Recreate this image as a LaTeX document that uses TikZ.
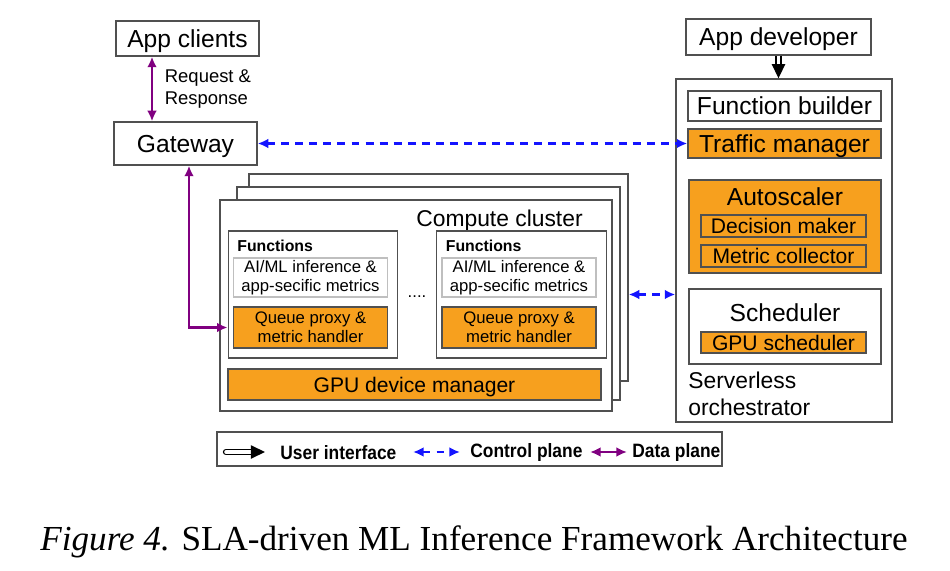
\documentclass[tikz,border=0pt]{standalone}
\usepackage{fontspec}
\setmainfont{Liberation Serif}
\setsansfont{Liberation Sans}
\newfontfamily\legendfont[FakeStretch=0.9]{Liberation Sans}
\usetikzlibrary{arrows.meta}
\definecolor{boxorange}{RGB}{247,160,30}
\definecolor{boxgray}{RGB}{80,80,80}
\definecolor{ctrlblue}{RGB}{20,20,255}
\definecolor{dataviolet}{RGB}{128,0,128}
\begin{document}
\begin{tikzpicture}[font=\sffamily, >=Latex,
      blk/.style={draw=boxgray, line width=0.8pt, fill=white, inner sep=0pt, text depth=0pt, font=\sffamily\fontsize{14}{16}\selectfont},
      org/.style={blk, fill=boxorange},
      sub/.style={org, font=\sffamily\fontsize{12}{14}\selectfont},
      fnbox/.style={blk, text depth={}, align=center, font=\sffamily\fontsize{9.5}{10.8}\selectfont},
      lbl/.style={inner sep=0pt, text depth=0pt, font=\sffamily\fontsize{14}{16}\selectfont},
      legtxt/.style={anchor=west, inner sep=0pt, font=\legendfont\bfseries\fontsize{11}{13}\selectfont},
      ctrl/.style={ctrlblue, line width=1.2pt, dash pattern=on 4.5pt off 3.5pt, {Latex[length=6pt,width=5.5pt]}-{Latex[length=6pt,width=5.5pt]}},
      data/.style={dataviolet, line width=1.2pt, {Latex[length=6pt,width=5.5pt]}-{Latex[length=6pt,width=5.5pt]}},
      ui/.style={draw=black, double=white, double distance=2pt, line width=0.8pt, -{Triangle[length=8pt,width=7.5pt]}}]
    \useasboundingbox (0,0) rectangle (19,11.4);
    % clients and gateway
    \node[blk, minimum width=2.86cm, minimum height=0.70cm] (appc) at (3.75,10.63) {App clients};
    \node[blk, minimum width=2.86cm, minimum height=0.86cm] (gw) at (3.71,8.53) {Gateway};
    \draw[data] ([xshift=-0.71cm]appc.south) -- ([xshift=-0.71cm]appc.south |- gw.north)
      node[midway, right, xshift=0.12cm, text=black, align=left, font=\sffamily\fontsize{10.5}{12.5}\selectfont] (reqlbl) {Request \&\\Response};
    % serverless orchestrator
    \node[blk, minimum width=3.70cm, minimum height=0.72cm] (dev) at (15.57,10.66) {App developer};
    \node[blk, minimum width=4.32cm, minimum height=6.86cm] (orch) at (15.68,6.39) {};
    \node[blk, minimum width=3.86cm, minimum height=0.60cm] (fb) at (15.69,9.28) {Function builder};
    \node[org, minimum width=3.86cm, minimum height=0.58cm] (tm) at (15.69,8.53) {Traffic manager};
    \node[org, minimum width=3.84cm, minimum height=1.86cm] (auto) at (15.70,6.87) {};
    \node[lbl] (autot) at (15.70,7.46) {Autoscaler};
    \node[sub, minimum width=3.30cm, minimum height=0.44cm] (dm) at (15.67,6.88) {Decision maker};
    \node[sub, minimum width=3.30cm, minimum height=0.44cm] (mc) at (15.67,6.28) {Metric collector};
    \node[blk, minimum width=3.84cm, minimum height=1.50cm] (sch) at (15.70,4.87) {};
    \node[lbl] (scht) at (15.70,5.14) {Scheduler};
    \node[sub, minimum width=3.30cm, minimum height=0.42cm] (gs) at (15.67,4.55) {GPU scheduler};
    \node[inner sep=0pt, anchor=west, align=left, font=\sffamily\fontsize{13}{15.3}\selectfont] (orcht) at (13.76,3.53) {Serverless\\orchestrator};
    \draw[ui] (dev.south) -- (dev.south |- orch.north);
    % compute cluster (stacked)
    \node[blk, minimum width=7.58cm, minimum height=4.14cm] (sheetC) at (8.77,5.85) {};
    \node[blk, minimum width=7.66cm, minimum height=4.26cm] (sheetB) at (8.57,5.53) {};
    \node[blk, minimum width=7.84cm, minimum height=4.22cm] (cc) at (8.32,5.29) {};
    \node[lbl, anchor=east, font=\sffamily\fontsize{13}{15}\selectfont] (cct) at (11.66,7.03) {Compute cluster};
    \foreach \i/\x in {1/6.26, 2/10.43} {
      \node[blk, minimum width=3.39cm, minimum height=2.54cm] (fn\i) at (\x,5.51) {};
      \node[lbl, anchor=west, font=\sffamily\bfseries\fontsize{9}{11}\selectfont] (fnt\i) at (\x-1.52,6.49) {Functions};
      \node[fnbox, draw=lightgray, minimum width=3.08cm, minimum height=0.78cm] (ai\i) at (\x-0.05,5.85) {AI/ML inference \&\\app-secific metrics};
      \node[fnbox, fill=boxorange, minimum width=3.08cm, minimum height=0.82cm] (qp\i) at (\x-0.05,4.85) {Queue proxy \&\\metric handler};
    }
    \node[font=\sffamily\fontsize{9.5}{11}\selectfont] (dots) at (8.34,5.46) {....};
    \node[sub, minimum width=7.46cm, minimum height=0.62cm] (gpu) at (8.29,3.71) {GPU device manager};
    % control and data plane links
    \draw[ctrl] (gw.east) -- (tm.west);
    \draw[ctrl] (sheetC.east |- fn1) -- (orch.west |- fn1);
    \draw[data] ([xshift=0.07cm]gw.south) |- (fn1.west |- qp1);
    % legend
    \node[blk, minimum width=10.10cm, minimum height=0.68cm] (leg) at (9.39,2.42) {};
    \coordinate (uiA) at (4.52,2.36);
    \coordinate (uiB) at (5.30,2.36);
    \coordinate (ctA) at (8.26,2.36);
    \coordinate (ctB) at (9.20,2.36);
    \coordinate (dtA) at (11.80,2.36);
    \coordinate (dtB) at (12.54,2.36);
    \draw[ui, line cap=round] (uiA) -- (uiB);
    \draw[ctrl] (ctA) -- (ctB);
    \draw[data] (dtA) -- (dtB);
    \node[legtxt] (uit) at (5.60,2.34) {User interface};
    \node[legtxt] (ctt) at (9.40,2.34) {Control plane};
    \node[legtxt] (dtt) at (12.64,2.34) {Data plane};
    % caption
    \node[font=\rmfamily\fontsize{20}{24}\selectfont] (cap) at (9.48,0.56) {\textit{Figure 4.} SLA-driven ML Inference Framework Architecture};
  \end{tikzpicture}
\end{document}
